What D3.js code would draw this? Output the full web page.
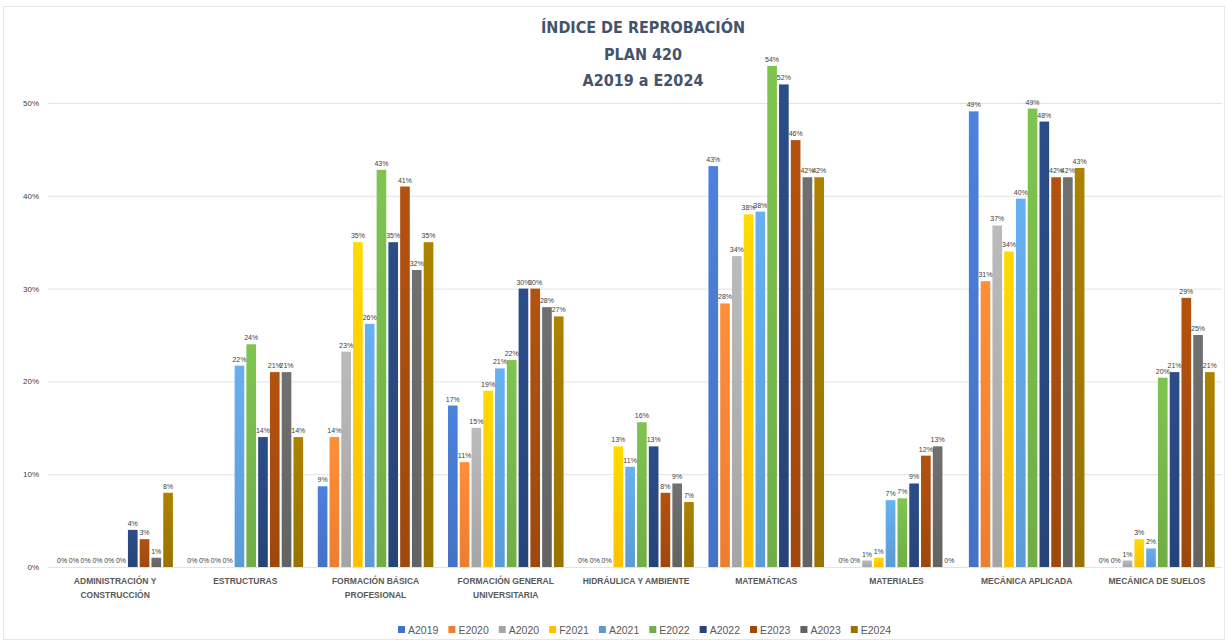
<!DOCTYPE html>
<meta charset="UTF-8">
<style>
    body { margin: 0; background: #fff; }
    text { font-family: "Liberation Sans", Arial, sans-serif; }
    .grid line { stroke: #e3e3e3; stroke-width: 1px; }
    .grid path { display: none; }
</style>
<body>
<div id="chart"></div>
<script src="https://d3js.org/d3.v7.min.js"></script>
<script>

// categories (two-line labels split with "|")
var categories = [
    "ADMINISTRACIÓN Y|CONSTRUCCIÓN", "ESTRUCTURAS", "FORMACIÓN BÁSICA|PROFESIONAL",
    "FORMACIÓN GENERAL|UNIVERSITARIA", "HIDRÁULICA Y AMBIENTE", "MATEMÁTICAS",
    "MATERIALES", "MECÁNICA APLICADA", "MECÁNICA DE SUELOS"
];

var series = ["A2019", "E2020", "A2020", "F2021", "A2021", "E2022", "A2022", "E2023", "A2023", "E2024"];

var colors = ["#4472C4", "#ED7D31", "#A5A5A5", "#FFC000", "#5B9BD5", "#70AD47", "#264478", "#9E480E", "#636363", "#997300"];

// one array per series, values in category order
var A2019 = [0, 0, 0.087, 0.174, 0, 0.432, 0, 0.491, 0];
var E2020 = [0, 0, 0.140, 0.113, 0, 0.284, 0, 0.308, 0];
var A2020 = [0, 0, 0.232, 0.150, 0, 0.335, 0.007, 0.368, 0.007];
var F2021 = [0, 0, 0.350, 0.190, 0.130, 0.380, 0.010, 0.340, 0.030];
var A2021 = [0, 0.217, 0.262, 0.214, 0.108, 0.383, 0.072, 0.397, 0.020];
var E2022 = [0, 0.240, 0.428, 0.223, 0.156, 0.540, 0.074, 0.494, 0.204];
var A2022 = [0.040, 0.140, 0.350, 0.300, 0.130, 0.520, 0.090, 0.480, 0.210];
var E2023 = [0.030, 0.210, 0.410, 0.300, 0.080, 0.460, 0.120, 0.420, 0.290];
var A2023 = [0.010, 0.210, 0.320, 0.280, 0.090, 0.420, 0.130, 0.420, 0.250];
var E2024 = [0.080, 0.140, 0.350, 0.270, 0.070, 0.420, 0, 0.430, 0.210];

var values = [A2019, E2020, A2020, F2021, A2021, E2022, A2022, E2023, A2023, E2024];

var yTicks = [0, 0.1, 0.2, 0.3, 0.4, 0.5];
var titleLines = ["ÍNDICE DE REPROBACIÓN", "PLAN 420", "A2019 a E2024"];

var W = 1228, H = 641;
var plot = {left: 50, right: 1222, top: 103, bottom: 567};

var svg = d3.select("#chart").append("svg")
    .attr("width", W)
    .attr("height", H);

// chart frame
svg.append("rect")
    .attr("x", 3.5).attr("y", 6.5)
    .attr("width", W - 7).attr("height", H - 8)
    .attr("fill", "#fff")
    .attr("stroke", "#e6e6e6");

// scales
var x0 = d3.scaleBand()
    .domain(categories)
    .range([plot.left, plot.right])
    .paddingInner(0.08)
    .paddingOuter(0.04);

var x1 = d3.scaleBand()
    .domain(series)
    .range([0, x0.bandwidth()])
    .padding(0.18);

var y = d3.scaleLinear()
    .domain([0, 0.5])
    .range([plot.bottom, plot.top]);

var pct = d3.format(".0%");

// gradients for the bars (lighter on top)
var defs = svg.append("defs");
series.forEach(function(s, i) {
    var g = defs.append("linearGradient")
        .attr("id", "grad" + i)
        .attr("x1", 0).attr("y1", 0).attr("x2", 0).attr("y2", 1);
    g.append("stop").attr("offset", "0%").attr("stop-color", d3.color(colors[i]).brighter(0.35));
    g.append("stop").attr("offset", "100%").attr("stop-color", colors[i]);
});

// gridlines
svg.append("g")
    .attr("class", "grid")
    .attr("transform", "translate(" + (plot.left - 2) + ",0)")
    .call(d3.axisLeft(y).tickValues(yTicks).tickSize(-(plot.right - plot.left + 2)).tickFormat(""));

// y tick labels
svg.append("g")
    .attr("transform", "translate(" + (plot.left - 8) + ",0)")
    .call(d3.axisLeft(y).tickValues(yTicks).tickSize(0).tickFormat(pct))
    .call(function(g) { g.select(".domain").remove(); })
    .selectAll("text")
        .attr("fill", "#404040")
        .style("font-size", "8px");

// title
svg.append("g").selectAll("text")
    .data(titleLines)
    .join("text")
    .attr("x", 643)
    .attr("y", function(d, i) { return 33 + i * 26.5; })
    .attr("text-anchor", "middle")
    .attr("fill", "#44546A")
    .style("font-family", "'DejaVu Sans Condensed', 'Liberation Sans', sans-serif")
    .style("font-size", "16px")
    .style("font-weight", "bold")
    .text(function(d) { return d; });

// bars
var rows = categories.map(function(c, ci) {
    return series.map(function(s, si) { return {cat: c, key: s, i: si, value: values[si][ci]}; });
});

var groups = svg.append("g").selectAll("g")
    .data(rows)
    .join("g")
    .attr("transform", function(d, ci) { return "translate(" + x0(categories[ci]) + ",0)"; });

groups.selectAll("rect")
    .data(function(d) { return d; })
    .join("rect")
    .attr("x", function(d) { return x1(d.key); })
    .attr("y", function(d) { return y(d.value); })
    .attr("width", x1.bandwidth())
    .attr("height", function(d) { return y(0) - y(d.value); })
    .attr("fill", function(d) { return "url(#grad" + d.i + ")"; });

groups.selectAll("text")
    .data(function(d) { return d; })
    .join("text")
    .attr("x", function(d) { return x1(d.key) + x1.bandwidth() / 2; })
    .attr("y", function(d) { return y(d.value) - 4; })
    .attr("text-anchor", "middle")
    .attr("fill", "#404040")
    .style("font-size", "7px")
    .text(function(d) { return pct(d.value); });

// category labels
var catLabels = svg.append("g").selectAll("text")
    .data(categories)
    .join("text")
    .attr("x", function(d) { return x0(d) + x0.bandwidth() / 2; })
    .attr("y", 584)
    .attr("text-anchor", "middle")
    .attr("fill", "#595959")
    .style("font-size", "8.5px")
    .style("font-weight", "bold");

catLabels.selectAll("tspan")
    .data(function(d) { return d.split("|"); })
    .join("tspan")
    .attr("x", function() { var p = this.parentNode.__data__; return x0(p) + x0.bandwidth() / 2; })
    .attr("dy", function(d, i) { return i ? 14 : 0; })
    .text(function(d) { return d; });

// legend
var legend = svg.append("g").attr("transform", "translate(398,630)");
var lx = 0;
series.forEach(function(s, i) {
    var item = legend.append("g").attr("transform", "translate(" + lx + ",0)");
    item.append("rect")
        .attr("x", 0).attr("y", -4)
        .attr("width", 7).attr("height", 7)
        .attr("fill", colors[i]);
    var t = item.append("text")
        .attr("x", 10).attr("y", 3.5)
        .attr("fill", "#595959")
        .style("font-size", "10.5px")
        .text(s);
    lx += 10 + t.node().getComputedTextLength() + 10;
});

</script>
</body>
